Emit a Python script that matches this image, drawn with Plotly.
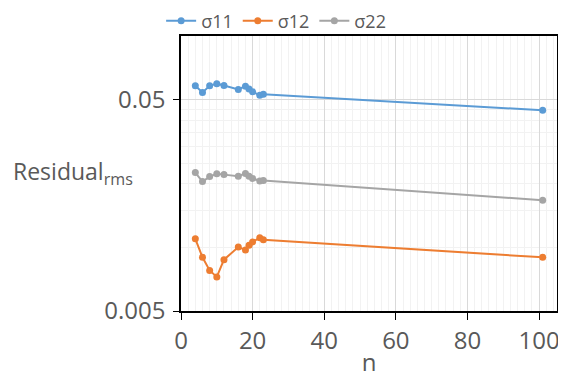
import numpy as np
import plotly.graph_objects as go

n = [4, 6, 8, 10, 12, 16, 18, 19, 20, 22, 23, 101]
s11 = [0.0582, 0.0541, 0.0581, 0.0595, 0.0583, 0.0559, 0.0579, 0.0561, 0.0545, 0.0524, 0.0530, 0.0445]
s12 = [0.01097, 0.00897, 0.00778, 0.00725, 0.00875, 0.01003, 0.00973, 0.01023, 0.01061, 0.01112, 0.01086, 0.00897]
s22 = [0.02258, 0.02047, 0.02162, 0.02228, 0.02209, 0.02173, 0.02238, 0.02173, 0.0212, 0.02062, 0.02074, 0.0167]

names = ["σ11", "σ12", "σ22"]
colors = ["#5B9BD5", "#ED7D31", "#A5A5A5"]
series = [s11, s12, s22]

ytickvals = [0.005, 0.05]
yticktext = ["0.005", "0.05"]
yminor = [0.005 * k for k in range(2, 10)] + [0.1]

FONT = "Open Sans"
GREY = "#595959"

fig = go.Figure()
for name, col, vals in zip(names, colors, series):
    fig.add_trace(go.Scatter(
        x=n, y=vals, name=name, mode="lines+markers",
        line=dict(color=col, width=2),
        marker=dict(color=col, size=7),
    ))

# page body has an 8px margin, so the figure is drawn 8px right/down
fig.update_layout(
    width=558, height=370,
    margin=dict(l=173, r=9, t=28, b=67, autoexpand=False),
    paper_bgcolor="white", plot_bgcolor="white",
    font=dict(family=FONT, color=GREY, size=24),
    showlegend=True,
    legend=dict(orientation="h", x=0.253, xanchor="center", y=1.0545, yanchor="middle",
                font=dict(size=18, color=GREY), itemwidth=30,
                tracegroupgap=0, bgcolor="rgba(0,0,0,0)"),
)

fig.update_xaxes(
    range=[0, 105], tick0=0, dtick=20,
    showline=True, linecolor="black", linewidth=1.5, mirror=True,
    ticks="outside", ticklen=7, tickcolor="black",
    showgrid=True, gridcolor="#d9d9d9", gridwidth=1,
    minor=dict(dtick=2, tick0=0, showgrid=True, gridcolor="#f2f2f2", ticks=""),
    zeroline=False,
    tickfont=dict(size=24, color=GREY),
    ticklabeloverflow="allow",
    automargin=True,
    title=dict(text="n", font=dict(size=24, color=GREY), standoff=4),
)

fig.update_yaxes(
    type="log", range=[np.log10(0.005), np.log10(0.1)],
    tickvals=ytickvals, ticktext=yticktext,
    showline=True, linecolor="black", linewidth=1.5, mirror=True,
    ticks="outside", ticklen=6, tickcolor="black",
    showgrid=True, gridcolor="#d9d9d9", gridwidth=1,
    minor=dict(tickvals=yminor, showgrid=True, gridcolor="#f2f2f2", ticks=""),
    zeroline=False,
    tickfont=dict(size=24, color=GREY),
    ticklabelstandoff=3,
)

fig.add_annotation(
    text="Residual<sub>rms</sub>", xref="paper", yref="paper",
    x=-0.287, y=0.505, xanchor="center", yanchor="middle",
    showarrow=False, font=dict(size=23, color=GREY),
)

fig.write_html("out.html")
